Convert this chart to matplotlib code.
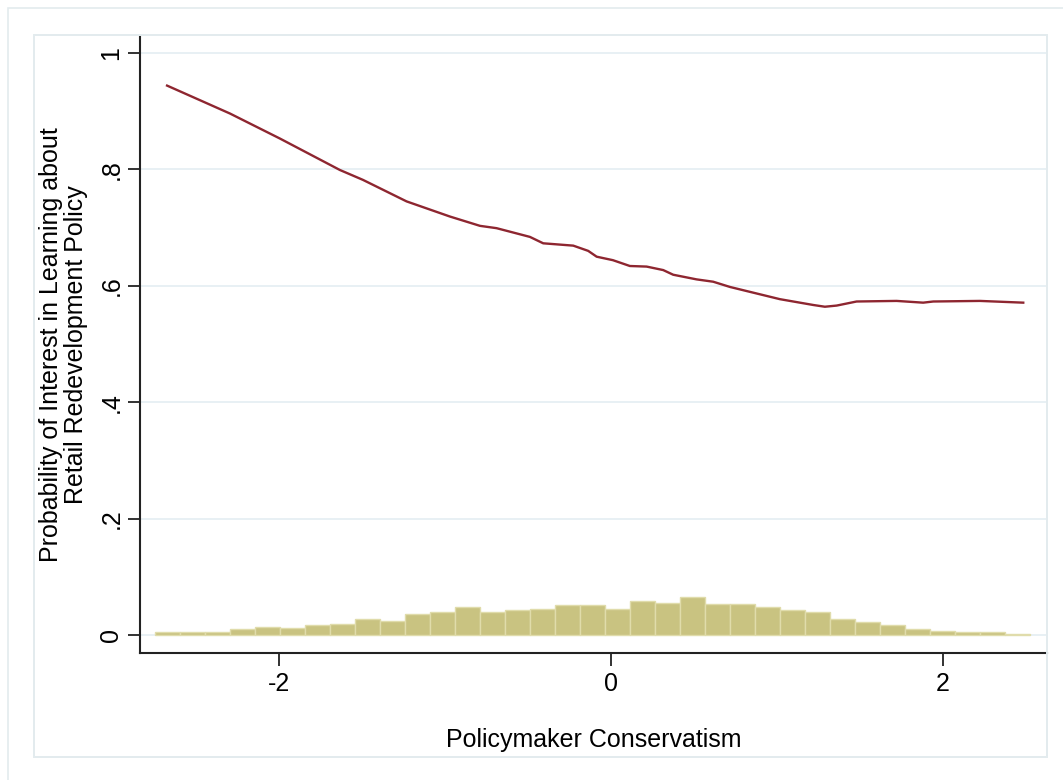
import numpy as np
import matplotlib
matplotlib.use("Agg")
import matplotlib.pyplot as plt
from matplotlib.patches import Rectangle

# Smoothed probability of interest by policymaker conservatism
conservatism = [-2.674, -2.295, -1.994, -1.633, -1.494, -1.231, -0.970, -0.789,
                -0.689, -0.488, -0.408, -0.227, -0.137, -0.086, 0.012, 0.114,
                0.215, 0.315, 0.375, 0.516, 0.616, 0.717, 0.817, 1.018, 1.219,
                1.289, 1.360, 1.480, 1.721, 1.881, 1.942, 2.223, 2.484]
probability = [0.944, 0.896, 0.853, 0.799, 0.782, 0.745, 0.719, 0.703,
               0.699, 0.684, 0.673, 0.669, 0.660, 0.650, 0.644, 0.634,
               0.633, 0.627, 0.619, 0.611, 0.607, 0.598, 0.591, 0.577, 0.567,
               0.564, 0.566, 0.573, 0.574, 0.571, 0.573, 0.574, 0.571]

# Histogram of conservatism (scaled bar heights)
hist_start = -2.747
hist_width = 0.1506
hist_heights = [0.0046, 0.0046, 0.0046, 0.0098, 0.0132, 0.0126, 0.0167, 0.0189,
                0.0275, 0.0246, 0.0366, 0.0395, 0.0487, 0.0395, 0.0430, 0.0452,
                0.0510, 0.0510, 0.0447, 0.0590, 0.0545, 0.0648, 0.0538, 0.0538,
                0.0487, 0.0430, 0.0395, 0.0275, 0.0223, 0.0167, 0.0098, 0.0074,
                0.0046, 0.0046, 0.0017]

x_ticks = [-2, 0, 2]
x_tick_labels = ["-2", "0", "2"]
y_ticks = [0, 0.2, 0.4, 0.6, 0.8, 1.0]
y_tick_labels = ["0", ".2", ".4", ".6", ".8", "1"]

x_label = "Policymaker Conservatism"
y_label = "Probability of Interest in Learning about\nRetail Redevelopment Policy"

plt.rcParams["font.family"] = ["Liberation Sans", "DejaVu Sans"]

W, H = 1063, 780
fig = plt.figure(figsize=(W / 100, H / 100), dpi=100)
fig.patch.set_facecolor("white")

# Graph-region frames
frame_col = "#e3ebee"
fig.add_artist(Rectangle((8 / W, -0.05), 1.2, 1 - 8 / H + 0.05,
                         transform=fig.transFigure, fill=False,
                         edgecolor=frame_col, lw=1.2))
fig.add_artist(Rectangle((34 / W, 1 - 757 / H), (1047 - 34) / W, (757 - 35) / H,
                         transform=fig.transFigure, fill=False,
                         edgecolor=frame_col, lw=1.4))

ax = fig.add_axes([140 / W, 1 - 653 / H, (1047 - 140) / W, (653 - 37) / H])
ax.set_facecolor("white")

# Horizontal grid
for yv in y_ticks:
    ax.axhline(yv, color="#e6eff3", lw=1.3, zorder=0)

# Histogram bars
edges = hist_start + hist_width * np.arange(len(hist_heights))
ax.bar(edges, hist_heights, width=hist_width, align="edge",
       color="#c9c381", edgecolor="#e0dcab", linewidth=1.0, zorder=2)

# Smoothed curve
ax.plot(conservatism, probability, color="#8e2630", lw=1.7, zorder=3)

ax.set_xlim(-2.837, 2.627)
ax.set_ylim(-0.031, 1.0275)

ax.set_xticks(x_ticks)
ax.set_xticklabels(x_tick_labels)
ax.set_yticks(y_ticks)
ax.set_yticklabels(y_tick_labels, rotation=90, va="center")

ax.tick_params(axis="both", direction="out", length=9, width=1.3,
               color="#222222", labelsize=18, labelcolor="#000000")
ax.tick_params(axis="x", pad=5)
ax.tick_params(axis="y", pad=3)

for side in ("top", "right"):
    ax.spines[side].set_visible(False)
for side in ("left", "bottom"):
    ax.spines[side].set_color("#222222")
    ax.spines[side].set_linewidth(1.5)

ax.set_xlabel(x_label, fontsize=18, color="#000000", labelpad=23)
ax.set_ylabel(y_label, fontsize=18, color="#000000", labelpad=8,
              linespacing=1.05)

fig.savefig("out.png", dpi=100, facecolor="white")
